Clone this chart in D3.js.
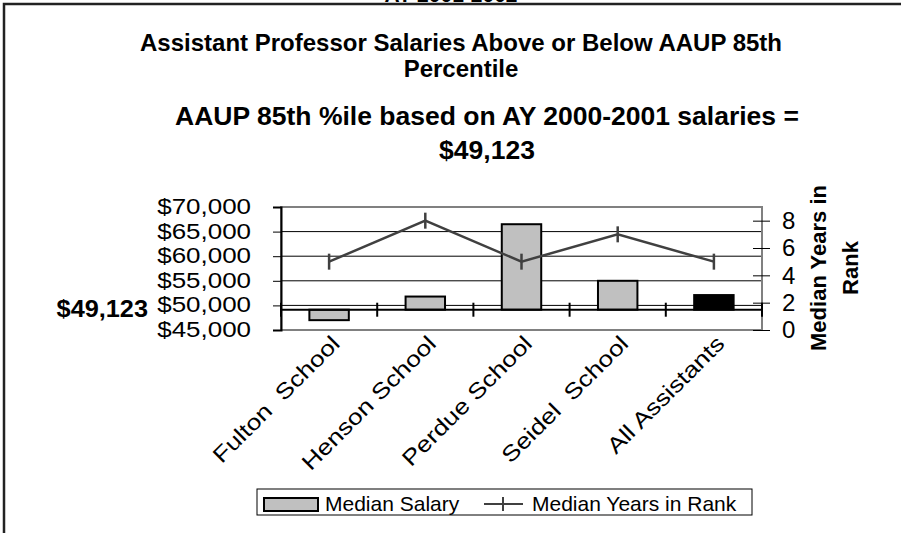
<!DOCTYPE html>
<html>
<head>
<meta charset="utf-8">
<script src="https://cdn.jsdelivr.net/npm/d3@7"></script>
<style>
  body { margin: 0; background: #fff; }
  svg { display: block; font-family: "Liberation Sans", Arial, sans-serif; }
  text { white-space: pre; }
</style>
</head>
<body>
<div id="chart"></div>
<script>
// ---- data ----
const categories = [ "Fulton  School", "Henson School", "Perdue School", "Seidel  School", "All Assistants" ];
const medianSalary = [ 47000, 51800, 66500, 55000, 52100 ];
const medianYears = [ 5, 8, 5, 7, 5 ];
const aaupLine = 49123;
const salaryTicks = [ 45000, 50000, 55000, 60000, 65000, 70000 ];
const yearTicks = [ 0, 2, 4, 6, 8 ];

const width = 901, height = 533;
const plot = { left: 281, right: 762, top: 207, bottom: 330 };
const money = d => "$" + d3.format( "," )( d );

const svg = d3.select( "#chart" ).append( "svg" )
  .attr( "width", width )
  .attr( "height", height );

// outer frame (runs off right / bottom), heading above it is clipped like the original
svg.append( "text" )
  .attr( "x", 451 ).attr( "y", 2 )
  .attr( "text-anchor", "middle" )
  .attr( "font-weight", "bold" ).attr( "font-size", 21 )
  .text( "AY 2001-2002" );
svg.append( "rect" )
  .attr( "x", 4 ).attr( "y", 4 )
  .attr( "width", 1000 ).attr( "height", 1000 )
  .attr( "fill", "none" ).attr( "stroke", "#222" ).attr( "stroke-width", 2.5 );

// titles
const titles = [
  { t: "Assistant Professor Salaries Above or Below AAUP 85th", x: 461, y: 51, s: 24 },
  { t: "Percentile", x: 461, y: 77, s: 24 },
  { t: "AAUP 85th %ile based on AY 2000-2001 salaries =", x: 487, y: 125, s: 26.5 },
  { t: "$49,123", x: 487, y: 159, s: 26.5 },
];
svg.selectAll( ".title" ).data( titles ).enter()
  .append( "text" ).attr( "class", "title" )
  .attr( "x", d => d.x ).attr( "y", d => d.y )
  .attr( "text-anchor", "middle" )
  .attr( "font-weight", "bold" )
  .attr( "font-size", d => d.s )
  .text( d => d.t );

// scales
const xScale = d3.scaleBand()
  .domain( categories )
  .range( [ plot.left, plot.right ] );
const yScale = d3.scaleLinear()
  .domain( [ 45000, 70000 ] )
  .range( [ plot.bottom, plot.top ] );
const y2Scale = d3.scaleLinear()
  .domain( [ 0, 9 ] )
  .range( [ plot.bottom, plot.top ] );
const cx = c => xScale( c ) + xScale.bandwidth() / 2;

// gridlines
svg.append( "g" )
  .selectAll( "line" )
  .data( salaryTicks.filter( v => v > 45000 && v < 70000 ) )
  .enter().append( "line" )
  .attr( "x1", plot.left ).attr( "x2", plot.right )
  .attr( "y1", d => yScale( d ) ).attr( "y2", d => yScale( d ) )
  .attr( "stroke", "#000" ).attr( "stroke-width", 1 );

// plot border (gray)
svg.append( "rect" )
  .attr( "x", plot.left ).attr( "y", plot.top )
  .attr( "width", plot.right - plot.left ).attr( "height", plot.bottom - plot.top )
  .attr( "fill", "none" ).attr( "stroke", "#808080" ).attr( "stroke-width", 2 );

// bars from the AAUP line
const barW = xScale.bandwidth() * 0.41;
svg.append( "g" )
  .selectAll( "rect" )
  .data( categories.map( ( c, i ) => ( { c, v: medianSalary[ i ], last: i === categories.length - 1 } ) ) )
  .enter().append( "rect" )
  .attr( "x", d => cx( d.c ) - barW / 2 )
  .attr( "width", barW )
  .attr( "y", d => yScale( Math.max( d.v, aaupLine ) ) )
  .attr( "height", d => Math.abs( yScale( d.v ) - yScale( aaupLine ) ) )
  .attr( "fill", d => d.last ? "#000" : "#c0c0c0" )
  .attr( "stroke", "#000" ).attr( "stroke-width", 2 );

// category axis at the AAUP line
const xAxis = svg.append( "g" )
  .attr( "transform", `translate(0,${yScale( aaupLine )})` );
xAxis.append( "line" )
  .attr( "x1", plot.left ).attr( "x2", plot.right )
  .attr( "stroke", "#000" ).attr( "stroke-width", 2 );
xAxis.selectAll( ".xt" )
  .data( d3.range( categories.length + 1 ) )
  .enter().append( "line" )
  .attr( "x1", i => plot.left + i * xScale.step() )
  .attr( "x2", i => plot.left + i * xScale.step() )
  .attr( "y1", -7 ).attr( "y2", 7 )
  .attr( "stroke", "#000" ).attr( "stroke-width", 2 );

// left axis: ticks from d3, labels drawn wide like the original
const leftAxis = svg.append( "g" )
  .attr( "transform", `translate(${plot.left},0)` )
  .call( d3.axisLeft( yScale ).tickValues( salaryTicks ).tickSize( 8 ).tickFormat( () => "" ) );
leftAxis.select( ".domain" ).attr( "stroke", "#000" ).attr( "stroke-width", 2 );

svg.append( "g" )
  .selectAll( "text" )
  .data( salaryTicks )
  .enter().append( "text" )
  .attr( "transform", d => `translate(251,${yScale( d ) - 1}) scale(1.18,1)` )
  .attr( "dy", "0.36em" )
  .attr( "text-anchor", "end" )
  .attr( "font-size", 22 )
  .text( money );

svg.append( "text" )
  .attr( "transform", `translate(148,${yScale( aaupLine ) - 1}) scale(1.1,1)` )
  .attr( "dy", "0.36em" )
  .attr( "text-anchor", "end" )
  .attr( "font-weight", "bold" ).attr( "font-size", 23 )
  .text( money( aaupLine ) );

// right axis
const rightAxis = svg.append( "g" )
  .attr( "transform", `translate(${plot.right},0)` )
  .call( d3.axisRight( y2Scale ).tickValues( yearTicks ).tickSize( 8 ).tickPadding( 12 ) );
rightAxis.select( ".domain" ).remove();
rightAxis.selectAll( ".tick line" ).attr( "x1", -9 ).attr( "stroke-width", 1 );
rightAxis.selectAll( "text" ).attr( "font-size", 24 ).attr( "font-family", null );

const rt = svg.append( "text" )
  .attr( "transform", "translate(826,268) rotate(-90)" )
  .attr( "text-anchor", "middle" )
  .attr( "font-weight", "bold" ).attr( "font-size", 22 );
rt.append( "tspan" ).attr( "x", 0 ).attr( "y", 0 ).text( "Median Years in" );
rt.append( "tspan" ).attr( "x", 0 ).attr( "y", 32 ).text( "Rank" );

// years line
const line = d3.line()
  .x( ( d, i ) => cx( categories[ i ] ) )
  .y( d => y2Scale( d ) );
svg.append( "path" )
  .datum( medianYears )
  .attr( "d", line )
  .attr( "fill", "none" ).attr( "stroke", "#404040" ).attr( "stroke-width", 2.5 );
svg.append( "g" )
  .selectAll( "line" )
  .data( medianYears )
  .enter().append( "line" )
  .attr( "x1", ( d, i ) => cx( categories[ i ] ) )
  .attr( "x2", ( d, i ) => cx( categories[ i ] ) )
  .attr( "y1", d => y2Scale( d ) - 8 ).attr( "y2", d => y2Scale( d ) + 8 )
  .attr( "stroke", "#404040" ).attr( "stroke-width", 2.5 );

// category labels, stretched along the baseline
svg.append( "g" )
  .selectAll( "text" )
  .data( categories )
  .enter().append( "text" )
  .attr( "transform", d => `translate(${cx( d ) + 12},345) rotate(-45) scale(1.2,1)` )
  .attr( "text-anchor", "end" )
  .attr( "font-size", 22 )
  .text( d => d );

// legend
const lg = svg.append( "g" );
lg.append( "rect" )
  .attr( "x", 257 ).attr( "y", 489 ).attr( "width", 495 ).attr( "height", 26 )
  .attr( "fill", "#fff" ).attr( "stroke", "#000" ).attr( "stroke-width", 1 );
lg.append( "rect" )
  .attr( "x", 264 ).attr( "y", 498 ).attr( "width", 54 ).attr( "height", 13 )
  .attr( "fill", "#c0c0c0" ).attr( "stroke", "#000" ).attr( "stroke-width", 2 );
lg.append( "text" )
  .attr( "x", 325 ).attr( "y", 511 ).attr( "font-size", 21 )
  .text( "Median Salary" );
lg.append( "line" )
  .attr( "x1", 484 ).attr( "x2", 523 ).attr( "y1", 504 ).attr( "y2", 504 )
  .attr( "stroke", "#404040" ).attr( "stroke-width", 2 );
lg.append( "line" )
  .attr( "x1", 503 ).attr( "x2", 503 ).attr( "y1", 497 ).attr( "y2", 511 )
  .attr( "stroke", "#404040" ).attr( "stroke-width", 2 );
lg.append( "text" )
  .attr( "x", 532 ).attr( "y", 511 ).attr( "font-size", 21 )
  .text( "Median Years in Rank" );
</script>
</body>
</html>
